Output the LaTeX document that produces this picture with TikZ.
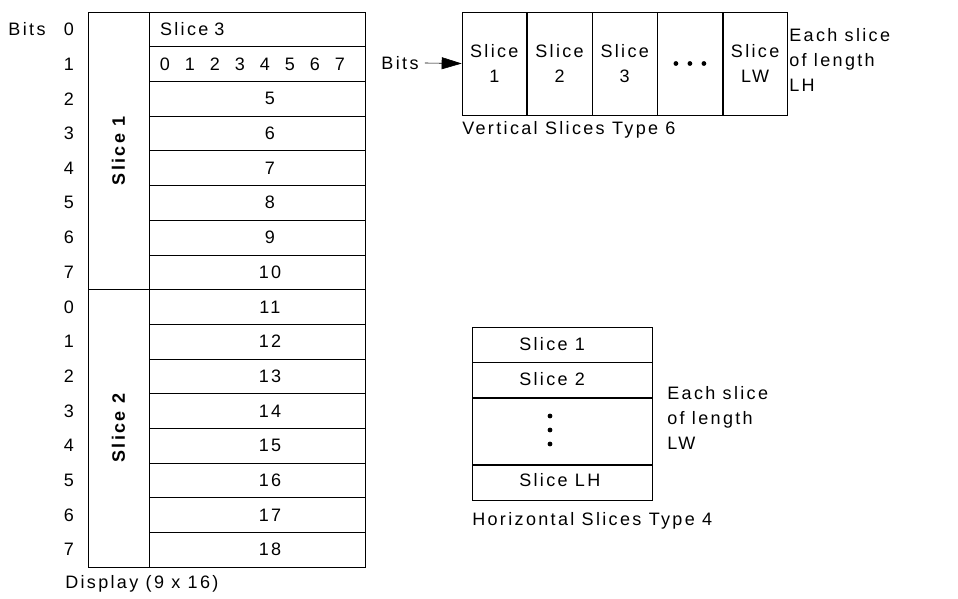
\documentclass[tikz,border=0pt]{standalone}
\usepackage{fontspec}
\setmainfont[LetterSpace=13]{Liberation Sans}
\usetikzlibrary{arrows.meta}

\begin{document}
\begin{tikzpicture}[x=1pt,y=-1pt,semithick]
      \tikzstyle{every node}=[font=\fontsize{18}{25}\selectfont, inner sep=0pt]
      \tikzstyle{row}=[draw, minimum width=216pt, minimum height=34.69pt]
      \tikzstyle{vslice}=[draw, minimum width=64.6pt, minimum height=103pt, align=center]
      \tikzstyle{hslice}=[draw, minimum width=180pt, minimum height=35pt]
      \tikzstyle{tall}=[draw, rotate=90, minimum width=277.5pt, minimum height=61pt, font=\fontsize{18}{20}\selectfont\bfseries]
      \useasboundingbox (0,0) rectangle (958,598);
      % display
      \node[tall] (slone) at (118.5,150.75) {Slice 1};
      \node[tall] (sltwo) at (118.5,428.25) {Slice 2};
      \node[anchor=center] (bits) at (27,29) {Bits};
      \foreach \r in {0,...,15} {
        \pgfmathtruncatemacro{\b}{mod(\r,8)}
        \node[row] (row\r) at (257,{12+34.6875*(\r+0.5)}) {};
        \node (bit\r) at (69,{12+34.6875*(\r+0.5)}) {\b};
      }
      \node[anchor=west] (sthree) at ([xshift=11pt]row0.west) {Slice\hspace{6pt}3};
      \foreach \d in {0,...,7}
        \node (d\d) at ({165+25*\d},64.03) {\d};
      \foreach \r [evaluate=\r as \n using int(\r+3)] in {2,...,15}
        \node (n\r) at ([xshift=13pt]row\r.center) {\n};
      \node[anchor=west] (disp) at (65,584) {Display (9 x 16)};
      % vertical slices
      \node[vslice] (v1) at (494.3,63.5) {Slice\\1};
      \node[vslice, anchor=west] (v2) at (v1.east) {Slice\\2};
      \node[vslice, anchor=west] (v3) at (v2.east) {Slice\\3};
      \node[vslice, anchor=west] (v4) at (v3.east) {};
      \node[vslice, anchor=west] (v5) at (v4.east) {Slice\\LW};
      \foreach \dx in {-14,0,14}
        \fill ([xshift=\dx pt]v4.center) circle (2.4pt);
      \node (vbits) at (400,63) {Bits};
      \draw[-{Triangle[length=20pt,width=12pt]}] (vbits.east) ++(6pt,0) coordinate (vtail) (vtail) -- (v1.west);
      \node[anchor=west, align=left] (vnote) at (789,60) {Each slice\\of length\\LH};
      \node[anchor=west] (vcap) at (462,130) {Vertical Slices Type 6};
      % horizontal slices
      \node[hslice] (h1) at (562,344.5) {};
      \node[hslice, anchor=north] (h2) at (h1.south) {};
      \node[hslice, anchor=north, minimum height=66pt] (h3) at (h2.south) {};
      \node[hslice, anchor=north] (h4) at (h3.south) {};
      \node[anchor=west] (t1) at (519,344.5) {Slice 1};
      \node[anchor=west] (t2) at (519,379.5) {Slice 2};
      \node[anchor=west] (t4) at (519,480.5) {Slice LH};
      \foreach \dy in {-14,0,14}
        \fill ([yshift=\dy pt]550,430) circle (2.4pt);
      \node[anchor=west, align=left] (hnote) at (667,418) {Each slice\\of length\\LW};
      \node[anchor=west] (hcap) at (472,521) {Horizontal Slices Type 4};
\end{tikzpicture}
\end{document}
